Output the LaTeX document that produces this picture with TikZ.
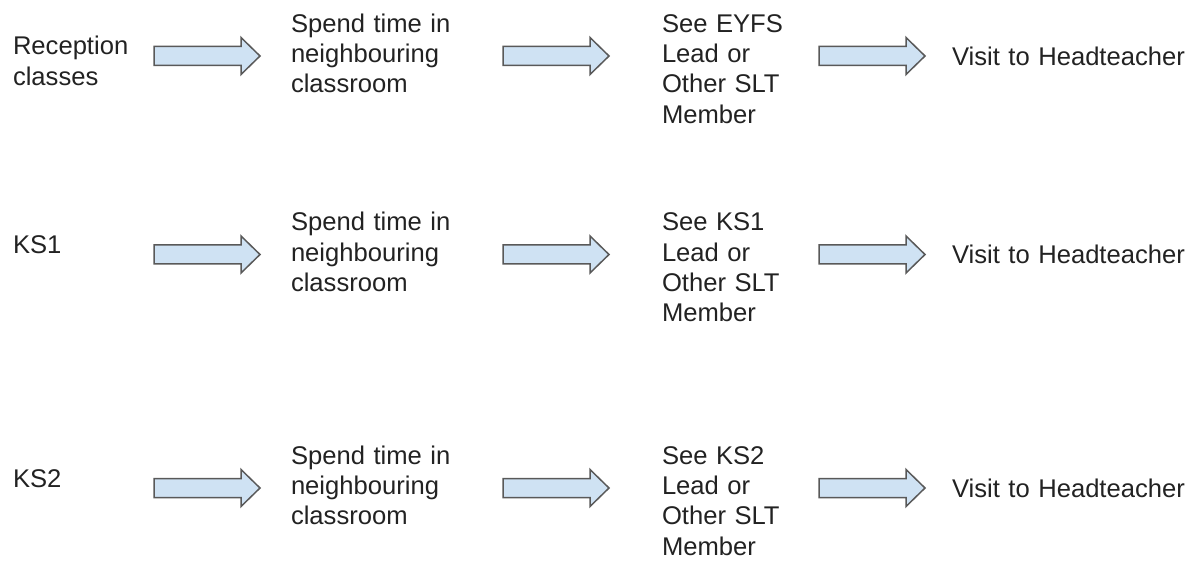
\documentclass[tikz,border=0pt]{standalone}
\usepackage{fontspec}
\setmainfont{Liberation Sans}
\definecolor{txt}{HTML}{222222}
\definecolor{arrfill}{HTML}{CFE2F3}
\definecolor{arrline}{HTML}{595959}
\begin{document}
\begin{tikzpicture}[x=1pt,y=-1pt,
  lbl/.style={anchor=base west,inner sep=0pt,outer sep=0pt,text width=260pt,align=left,
    text=txt,font=\fontsize{25.6}{30.2}\selectfont},
  barrow/.pic={\draw[fill=arrfill,draw=arrline,line width=1.5pt,line join=miter]
     (0,-9.5) -- (87,-9.5) -- (87,-18.5) -- (106,0) -- (87,18.5) -- (87,9.5) -- (0,9.5) -- cycle;}]
\useasboundingbox (0,0) rectangle (1192,561);
\foreach \r/\dy/\lab/\see in {1/0/{Reception\\classes}/{See EYFS},2/198.5/{KS1}/{See KS1},3/432/{KS2}/{See KS2}}{
  \node[lbl] (lab\r) at (13,55+\dy) {\lab};
  \node[lbl] (spend\r) at (291,32.5+\dy) {Spend time in\\neighbouring\\classroom};
  \node[lbl] (see\r) at (662,32.5+\dy) {\see\\Lead or\\Other SLT\\Member};
  \node[lbl] (visit\r) at (952,65.5+\dy) {Visit to Headteacher};
  \pic (a\r) at (154,56+\dy) {barrow};
  \pic (b\r) at (503,56+\dy) {barrow};
  \pic (c\r) at (819,56+\dy) {barrow};
}
\end{tikzpicture}
\end{document}
